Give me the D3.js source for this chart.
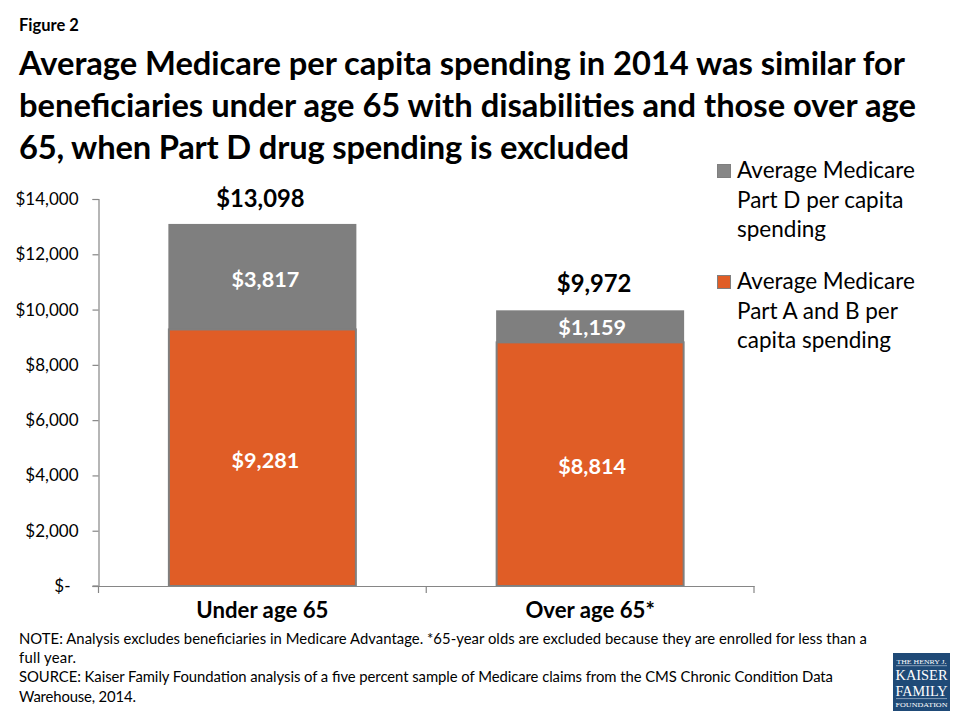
<!DOCTYPE html>
<html>
<head>
<meta charset="utf-8">
<script src="https://cdn.jsdelivr.net/npm/d3@7"></script>
<style>
  body { margin: 0; background: #fff; }
  text { font-family: Lato, sans-serif; fill: #000; }
</style>
</head>
<body>
<svg id="chart" width="960" height="720"></svg>
<script>
let categories = ["Under age 65", "Over age 65*"];
let partAB = [9281, 8814];
let partD = [3817, 1159];
let totals = [13098, 9972];
let yTicks = [0, 2000, 4000, 6000, 8000, 10000, 12000, 14000];
let titleLines = [
    "Average Medicare per capita spending in 2014 was similar for",
    "beneficiaries under age 65 with disabilities and those over age",
    "65, when Part D drug spending is excluded"
];
let noteLines = [
    "NOTE: Analysis excludes beneficiaries in Medicare Advantage. *65-year olds are excluded because they are enrolled for less than a",
    "full year.",
    "SOURCE: Kaiser Family Foundation analysis of a five percent sample of Medicare claims from the CMS Chronic Condition Data",
    "Warehouse, 2014."
];
let legendD = ["Average Medicare", "Part D per capita", "spending"];
let legendAB = ["Average Medicare", "Part A and B per", "capita spending"];
let logoLines = ["THE HENRY J.", "KAISER", "FAMILY", "FOUNDATION"];

let orange = "#e05d26";
let grey = "#7f7f7f";

let svg = d3.select("#chart");
let margins = {top: 199, left: 98.5, bottom: 586, right: 754};

let xScale = d3.scaleBand().domain(categories).range([margins.left, margins.right]).padding(0);
let barWidth = 188;
let yScale = d3.scaleLinear().domain([0, 14000]).range([margins.bottom, margins.top]);
let money = d => d === 0 ? "$-" : "$" + d3.format(",")(d);
let barX = c => xScale(c) + xScale.bandwidth() / 2 - barWidth / 2;
let midX = c => xScale(c) + xScale.bandwidth() / 2;

svg.append("text").attr("x", 19).attr("y", 31).style("font-size", "16.5px").style("font-weight", 700).text("Figure 2");

// line widths pinned so each line ends where it does in the original
let titleWidths = [886, 897, 610];
svg.selectAll(".title").data(titleLines).enter().append("text").attr("class", "title")
    .attr("x", 19)
    .attr("y", (d, i) => 75 + i * 42)
    .attr("textLength", (d, i) => titleWidths[i])
    .style("font-size", "32.7px")
    .style("font-weight", 700)
    .text(d => d);

// bars
svg.selectAll(".barD").data(categories).enter().append("rect").attr("class", "barD")
    .attr("x", d => barX(d)).attr("width", barWidth)
    .attr("y", (d, i) => yScale(partAB[i] + partD[i]))
    .attr("height", (d, i) => yScale(partAB[i]) - yScale(partAB[i] + partD[i]))
    .style("fill", grey);

// orange segment has a grey outline in the original
svg.selectAll(".barAB").data(categories).enter().append("rect").attr("class", "barAB")
    .attr("x", d => barX(d) + 0.5).attr("width", barWidth - 1)
    .attr("y", (d, i) => yScale(partAB[i]))
    .attr("height", (d, i) => yScale(0) - yScale(partAB[i]))
    .style("fill", orange)
    .style("stroke", grey)
    .style("stroke-width", 2);

// axes
let yAxis = svg.append("g").attr("transform", `translate(${margins.left},0)`)
    .call(d3.axisLeft(yScale).tickValues(yTicks).tickFormat(money).tickSize(6).tickPadding(14));
let xAxis = svg.append("g").attr("transform", `translate(0,${margins.bottom})`)
    .call(d3.axisBottom(xScale).tickValues([]).tickSize(0));
xAxis.selectAll(".bt").data([0, 1, 2]).enter().append("line").attr("class", "bt")
    .attr("x1", i => margins.left + i * xScale.bandwidth())
    .attr("x2", i => margins.left + i * xScale.bandwidth())
    .attr("y1", 0).attr("y2", 7);
xAxis.append("line").attr("x1", margins.left - 6).attr("x2", margins.left).attr("y1", 0).attr("y2", 0);
svg.selectAll(".domain, .tick line").style("stroke", "#868686").style("stroke-width", 1.2);
xAxis.selectAll("line").style("stroke", "#868686").style("stroke-width", 1.2);
yAxis.selectAll("text")
    .style("font-size", "17px")
    .style("font-family", "Lato, sans-serif")
    .attr("dx", d => d === 0 ? -8 : 0);

svg.selectAll(".cat").data(categories).enter().append("text").attr("class", "cat")
    .attr("x", d => midX(d))
    .attr("y", 618)
    .attr("text-anchor", "middle")
    .style("font-size", "22.2px").style("font-weight", 700)
    .text(d => d);

// value labels
let valueFont = "21.6px";
svg.selectAll(".lblAB").data(categories).enter().append("text").attr("class", "lblAB")
    .attr("x", (d, i) => midX(d) + [3, 2][i])
    .attr("y", (d, i) => yScale(partAB[i] / 2) + 10)
    .attr("text-anchor", "middle")
    .style("font-size", valueFont).style("font-weight", 700).style("fill", "#fff")
    .text((d, i) => money(partAB[i]));

svg.selectAll(".lblD").data(categories).enter().append("text").attr("class", "lblD")
    .attr("x", (d, i) => midX(d) + [3, 2][i])
    .attr("y", (d, i) => yScale(partAB[i] + partD[i] / 2) + [10, 9][i])
    .attr("text-anchor", "middle")
    .style("font-size", valueFont).style("font-weight", 700).style("fill", "#fff")
    .text((d, i) => money(partD[i]));

svg.selectAll(".lblTotal").data(categories).enter().append("text").attr("class", "lblTotal")
    .attr("x", (d, i) => midX(d) + [-2, 4][i])
    .attr("y", (d, i) => yScale(totals[i]) - [17, 18][i])
    .attr("text-anchor", "middle")
    .style("font-size", "23.8px").style("font-weight", 700)
    .text((d, i) => money(totals[i]));

// legend
function drawLegend(lines, color, top) {
    svg.append("rect").attr("x", 717.5).attr("y", top + 0.5).attr("width", 13).attr("height", 13)
        .style("fill", color).style("stroke", grey);
    svg.selectAll(null).data(lines).enter().append("text")
        .attr("x", 737)
        .attr("y", (d, i) => top + 14 + i * 29.5)
        .style("font-size", "22.5px")
        .text(d => d);
}
drawLegend(legendD, "#878787", 164);
drawLegend(legendAB, orange, 275);

// notes
let noteWidths = [848, 57, 814, 117];
svg.selectAll(".note").data(noteLines).enter().append("text").attr("class", "note")
    .attr("x", 19)
    .attr("y", (d, i) => 644 + i * 19.2)
    .attr("textLength", (d, i) => noteWidths[i])
    .style("font-size", "14.85px")
    .text(d => d);

// logo
let logo = svg.append("g").attr("transform", "translate(893,653)");
logo.append("rect").attr("width", 57).attr("height", 58).style("fill", "#1f4a77");
logo.selectAll("text").data(logoLines).enter().append("text")
    .attr("x", 28.5)
    .attr("y", (d, i) => [10.5, 27, 42.6, 54][i])
    .attr("text-anchor", "middle")
    .attr("textLength", (d, i) => [50, 52, 52, 52][i])
    .attr("lengthAdjust", "spacingAndGlyphs")
    .style("font-family", "'Liberation Serif', serif")
    .style("font-size", (d, i) => [6.5, 14, 14, 6.5][i] + "px")
    .style("fill", "#fff")
    .text(d => d);
logo.selectAll(".rule").data([12.7, 45.6]).enter().append("line").attr("class", "rule")
    .attr("x1", 3).attr("x2", 54)
    .attr("y1", d => d).attr("y2", d => d)
    .style("stroke", "#9fb3c8").style("stroke-width", 0.8);
</script>
</body>
</html>
